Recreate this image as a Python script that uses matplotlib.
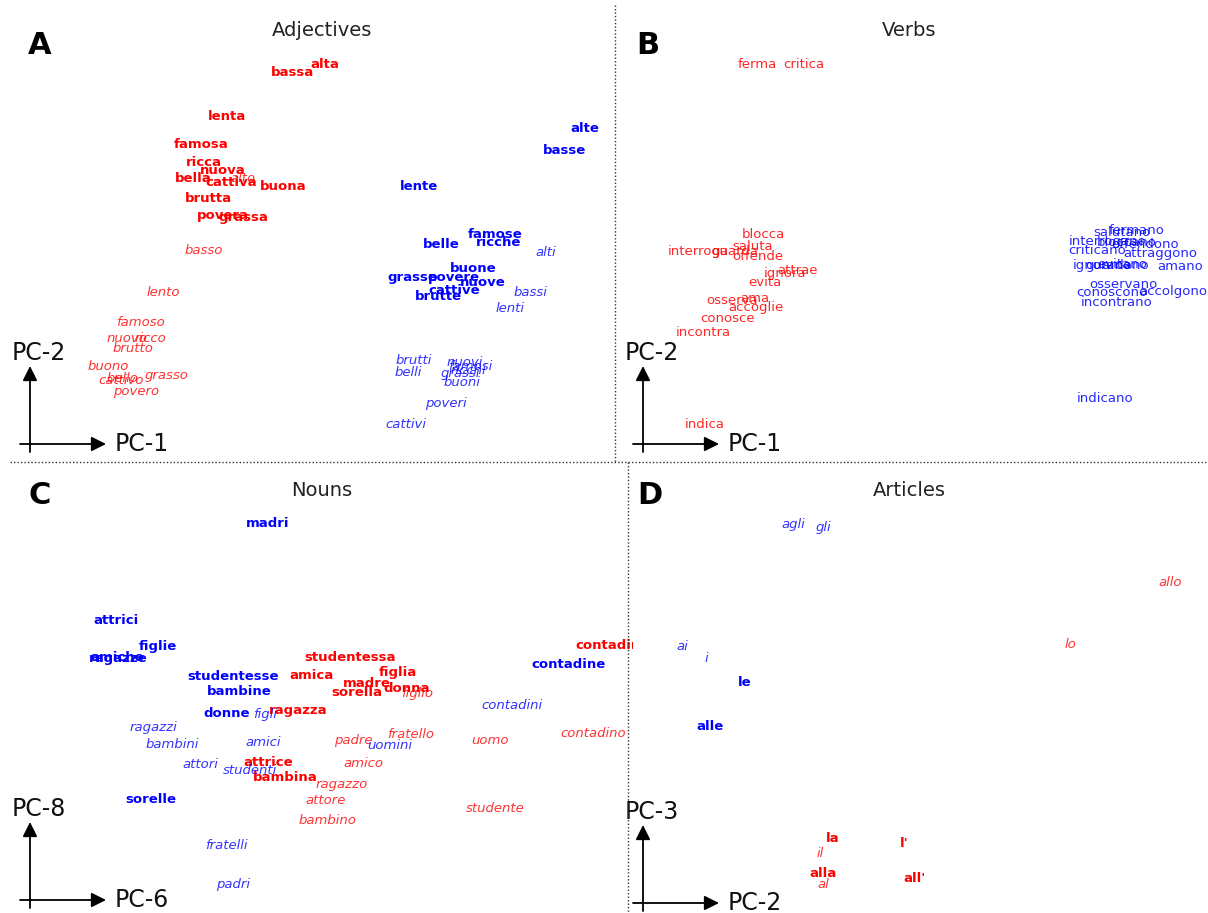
import matplotlib.pyplot as plt
from matplotlib.lines import Line2D

W, H = 1208, 913

# ---- Adjectives (panel A), PC-1 / PC-2 scores
adj_fsg = ['alta', 'bassa', 'lenta', 'famosa', 'ricca', 'nuova', 'bella', 'cattiva', 'buona', 'brutta', 'povera', 'grassa']
adj_fsg_x = [325, 293, 227, 201, 204, 223, 193, 231, 283, 208, 223, 243]
adj_fsg_y = [65, 72, 117, 144, 163, 170, 179, 183, 186, 198, 215, 217]
adj_msg = ['alto', 'basso', 'lento', 'famoso', 'nuovo', 'ricco', 'brutto', 'buono', 'bello', 'grasso', 'cattivo', 'povero']
adj_msg_x = [243, 204, 163, 140, 127, 150, 133, 108, 122, 167, 121, 136]
adj_msg_y = [178, 250, 292, 322, 339, 339, 349, 367, 378, 376, 381, 392]
adj_fpl = ['alte', 'basse', 'lente', 'famose', 'ricche', 'belle', 'buone', 'grasse', 'povere', 'nuove', 'cattive', 'brutte']
adj_fpl_x = [585, 564, 419, 495, 499, 441, 473, 412, 454, 483, 454, 438]
adj_fpl_y = [129, 150, 187, 235, 243, 244, 269, 278, 277, 282, 291, 296]
adj_mpl = ['alti', 'bassi', 'lenti', 'brutti', 'belli', 'nuovi', 'famosi', 'ricchi', 'grassi', 'buoni', 'poveri', 'cattivi']
adj_mpl_x = [546, 530, 510, 414, 408, 465, 470, 468, 460, 462, 446, 406]
adj_mpl_y = [252, 293, 308, 361, 372, 363, 367, 370, 374, 382, 403, 424]

# ---- Verbs (panel B)
verb_sg = ['ferma', 'critica', 'blocca', 'saluta', 'interroga', 'guarda', 'offende', 'attrae', 'ignora',
           'evita', 'osserva', 'ama', 'accoglie', 'conosce', 'incontra', 'indica']
verb_sg_x = [757, 804, 763, 753, 698, 735, 758, 798, 785, 765, 732, 755, 756, 728, 703, 705]
verb_sg_y = [65, 65, 235, 247, 252, 252, 257, 271, 274, 283, 300, 299, 307, 319, 333, 424]
verb_pl = ['fermano', 'salutano', 'interrogano', 'bloccano', 'offendono', 'criticano', 'attraggono', 'ignorano',
           'guardano', 'evitano', 'amano', 'osservano', 'conoscono', 'accolgono', 'incontrano', 'indicano']
verb_pl_x = [1137, 1122, 1108, 1127, 1145, 1097, 1160, 1102, 1117, 1122, 1180, 1123, 1112, 1173, 1117, 1105]
verb_pl_y = [230, 233, 241, 243, 244, 251, 254, 266, 266, 264, 267, 285, 292, 291, 302, 398]

# ---- Nouns (panel C), PC-6 / PC-8
noun_fsg = ['studentessa', 'amica', 'figlia', 'madre', 'donna', 'sorella', 'ragazza', 'attrice', 'bambina', 'contadina']
noun_fsg_x = [350, 311, 398, 367, 407, 357, 298, 268, 285, 612]
noun_fsg_y = [657, 675, 672, 683, 688, 692, 710, 762, 777, 645]
noun_msg = ['figlio', 'fratello', 'padre', 'uomo', 'contadino', 'amico', 'ragazzo', 'attore', 'studente', 'bambino']
noun_msg_x = [417, 411, 353, 490, 593, 363, 342, 326, 495, 327]
noun_msg_y = [693, 734, 740, 740, 733, 763, 784, 800, 808, 820]
noun_fpl = ['madri', 'attrici', 'figlie', 'amiche', 'ragazze', 'contadine', 'studentesse', 'bambine', 'donne', 'sorelle']
noun_fpl_x = [268, 116, 158, 117, 118, 568, 233, 239, 227, 151]
noun_fpl_y = [523, 620, 646, 657, 658, 664, 676, 691, 713, 799]
noun_mpl = ['figli', 'contadini', 'ragazzi', 'amici', 'uomini', 'bambini', 'attori', 'studenti', 'fratelli', 'padri']
noun_mpl_x = [265, 512, 153, 263, 390, 172, 200, 250, 226, 233]
noun_mpl_y = [714, 705, 727, 742, 745, 744, 764, 770, 845, 884]

# ---- Articles (panel D), PC-2 / PC-3
art_fsg = ['la', "l'", 'alla', "all'"]
art_fsg_x = [833, 904, 823, 915]
art_fsg_y = [838, 843, 873, 878]
art_msg = ['il', 'al', 'lo', 'allo']
art_msg_x = [820, 823, 1070, 1170]
art_msg_y = [853, 884, 644, 582]
art_fpl = ['le', 'alle']
art_fpl_x = [745, 710]
art_fpl_y = [682, 726]
art_mpl = ['agli', 'gli', 'ai', 'i']
art_mpl_x = [793, 823, 682, 706]
art_mpl_y = [524, 527, 646, 658]

RED = '#ff0000'
BLUE = '#0000ff'

fig = plt.figure(figsize=(W / 100, H / 100), dpi=100)


def panel(x0, y0, x1, y1):
    ax = fig.add_axes([x0 / W, 1 - y1 / H, (x1 - x0) / W, (y1 - y0) / H])
    ax.set_xlim(x0, x1)
    ax.set_ylim(y1, y0)
    ax.axis('off')
    ax.patch.set_alpha(0)
    return ax


def words(ax, labels, xs, ys, color, weight='normal', style='normal', alpha=1.0):
    for w, x, y in zip(labels, xs, ys):
        ax.text(x, y, w, color=color, fontsize=9.5, fontweight=weight, fontstyle=style,
                alpha=alpha, ha='center', va='center', clip_on=True)


def decor(ax, letter, lx, ly, title, tx, ty, ox, oy, ylab, xlab):
    ax.text(lx, ly, letter, fontsize=22, fontweight='bold', ha='center', va='center')
    ax.text(tx, ty, title, fontsize=14, color='#222222', ha='center', va='center')
    arrow = dict(arrowstyle='-|>', color='black', lw=1.3, mutation_scale=22, shrinkA=0, shrinkB=0)
    ax.annotate('', xy=(ox, oy - 78), xytext=(ox, oy + 8), arrowprops=arrow)
    ax.annotate('', xy=(ox + 76, oy), xytext=(ox - 10, oy), arrowprops=arrow)
    ax.text(ox - 18, oy - 91, ylab, fontsize=17, color='#111111', ha='left', va='center')
    ax.text(ox + 85, oy, xlab, fontsize=17, color='#111111', ha='left', va='center')


axA = panel(0, 0, 615, 462)
words(axA, adj_fsg, adj_fsg_x, adj_fsg_y, RED, weight='bold')
words(axA, adj_msg, adj_msg_x, adj_msg_y, RED, style='italic', alpha=0.8)
words(axA, adj_fpl, adj_fpl_x, adj_fpl_y, BLUE, weight='bold')
words(axA, adj_mpl, adj_mpl_x, adj_mpl_y, BLUE, style='italic', alpha=0.8)
decor(axA, 'A', 40, 45, 'Adjectives', 322, 31, 30, 444, 'PC-2', 'PC-1')

axB = panel(615, 0, 1208, 462)
words(axB, verb_sg, verb_sg_x, verb_sg_y, RED, alpha=0.85)
words(axB, verb_pl, verb_pl_x, verb_pl_y, BLUE, alpha=0.85)
decor(axB, 'B', 648, 45, 'Verbs', 909, 31, 643, 444, 'PC-2', 'PC-1')

axC = panel(0, 462, 633, 913)
words(axC, noun_fsg, noun_fsg_x, noun_fsg_y, RED, weight='bold')
words(axC, noun_msg, noun_msg_x, noun_msg_y, RED, style='italic', alpha=0.8)
words(axC, noun_fpl, noun_fpl_x, noun_fpl_y, BLUE, weight='bold')
words(axC, noun_mpl, noun_mpl_x, noun_mpl_y, BLUE, style='italic', alpha=0.8)
decor(axC, 'C', 40, 495, 'Nouns', 322, 490, 30, 900, 'PC-8', 'PC-6')

axD = panel(628, 462, 1208, 913)
words(axD, art_fsg, art_fsg_x, art_fsg_y, RED, weight='bold')
words(axD, art_msg, art_msg_x, art_msg_y, RED, style='italic', alpha=0.8)
words(axD, art_fpl, art_fpl_x, art_fpl_y, BLUE, weight='bold')
words(axD, art_mpl, art_mpl_x, art_mpl_y, BLUE, style='italic', alpha=0.8)
decor(axD, 'D', 650, 495, 'Articles', 909, 490, 643, 903, 'PC-3', 'PC-2')

# dotted separators between the panels
sep = dict(color='#333333', lw=1, linestyle=(0, (1, 1.5)), transform=fig.transFigure)
fig.add_artist(Line2D([615 / W, 615 / W], [1 - 5 / H, 1 - 462 / H], **sep))
fig.add_artist(Line2D([628 / W, 628 / W], [1 - 462 / H, 0], **sep))
fig.add_artist(Line2D([10 / W, 1], [1 - 462 / H, 1 - 462 / H], **sep))

fig.savefig('out.png', dpi=100)
